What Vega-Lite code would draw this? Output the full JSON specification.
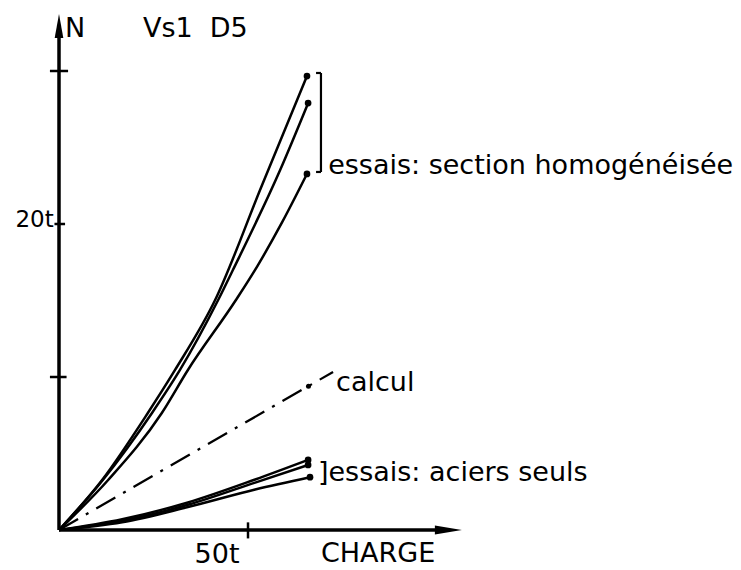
{
  "$schema": "https://vega.github.io/schema/vega-lite/v6.json",
  "width": 741,
  "height": 570,
  "autosize": {"type": "none"},
  "padding": 0,
  "background": "white",
  "config": {"view": {"stroke": null}},
  "datasets": {
    "axes": [
      {"x": 0, "y": 0, "x2": 0, "y2": 32.3},
      {"x": 0, "y": 0, "x2": 101.5, "y2": 0}
    ],
    "ticks": [
      {"x": -2.4, "y": 10, "x2": 2.0, "y2": 10},
      {"x": -1.2, "y": 20, "x2": 1.6, "y2": 20},
      {"x": -2.4, "y": 30, "x2": 2.4, "y2": 30},
      {"x": 50, "y": -0.55, "x2": 50, "y2": 0.5}
    ],
    "bracket": [
      {"x": 69.3, "y": 23.4, "x2": 69.3, "y2": 29.87},
      {"x": 68.0, "y": 29.87, "x2": 69.3, "y2": 29.87},
      {"x": 68.0, "y": 23.4, "x2": 69.3, "y2": 23.4}
    ],
    "curves": [
      {"s": "A", "x": 0, "y": 0}, {"s": "A", "x": 11.4, "y": 3.27}, {"s": "A", "x": 23.5, "y": 7.65}, {"s": "A", "x": 30.7, "y": 10.46}, {"s": "A", "x": 41.3, "y": 15.03}, {"s": "A", "x": 53.4, "y": 22.35}, {"s": "A", "x": 65.6, "y": 29.67},
      {"s": "B", "x": 0, "y": 0}, {"s": "B", "x": 11.6, "y": 3.27}, {"s": "B", "x": 24.6, "y": 7.65}, {"s": "B", "x": 32.0, "y": 10.46}, {"s": "B", "x": 42.1, "y": 15.03}, {"s": "B", "x": 46.0, "y": 16.99}, {"s": "B", "x": 58.5, "y": 23.53}, {"s": "B", "x": 65.9, "y": 27.9},
      {"s": "C", "x": 0, "y": 0}, {"s": "C", "x": 13.0, "y": 3.27}, {"s": "C", "x": 27.2, "y": 7.65}, {"s": "C", "x": 34.1, "y": 10.46}, {"s": "C", "x": 46.8, "y": 15.03}, {"s": "C", "x": 52.6, "y": 17.3}, {"s": "C", "x": 59.0, "y": 20.1}, {"s": "C", "x": 65.6, "y": 23.27},
      {"s": "D", "x": 0, "y": 0}, {"s": "D", "x": 16.7, "y": 0.7}, {"s": "D", "x": 34.1, "y": 1.8}, {"s": "D", "x": 51.9, "y": 3.3}, {"s": "D", "x": 65.9, "y": 4.58},
      {"s": "E", "x": 0, "y": 0}, {"s": "E", "x": 16.7, "y": 0.6}, {"s": "E", "x": 34.1, "y": 1.65}, {"s": "E", "x": 51.9, "y": 3.1}, {"s": "E", "x": 65.9, "y": 4.25},
      {"s": "F", "x": 0, "y": 0}, {"s": "F", "x": 16.7, "y": 0.5}, {"s": "F", "x": 34.1, "y": 1.5}, {"s": "F", "x": 51.9, "y": 2.65}, {"s": "F", "x": 66.4, "y": 3.45}
    ],
    "ends": [
      {"s": "A", "x": 65.6, "y": 29.67},
      {"s": "B", "x": 65.9, "y": 27.9},
      {"s": "C", "x": 65.6, "y": 23.27},
      {"s": "D", "x": 65.9, "y": 4.58},
      {"s": "E", "x": 65.9, "y": 4.25},
      {"s": "F", "x": 66.4, "y": 3.45}
    ],
    "calcul": [
      {"x": 0, "y": 0},
      {"x": 72.5, "y": 10.33}
    ],
    "calculmark": [
      {"x": 66.0, "y": 9.4}
    ],
    "arrowY": [{"x": 0, "y": 32.94}],
    "arrowX": [{"x": 103.0, "y": 0}],
    "labelsLeft": [
      {"x": 1.6, "y": 32.2, "t": "N"},
      {"x": 22.2, "y": 32.2, "t": "Vs1"},
      {"x": 39.9, "y": 32.2, "t": "D5"},
      {"x": 69.3, "y": -2.09, "t": "CHARGE"},
      {"x": 73.3, "y": 9.08, "t": "calcul"},
      {"x": 68.5, "y": 3.2, "t": "]essais: aciers seuls"},
      {"x": 71.2, "y": 23.3, "t": "essais: section homogénéisée"}
    ],
    "labelsCenter": [
      {"x": 41.8, "y": -2.16, "t": "50t"}
    ],
    "labels20": [
      {"x": -1.4, "y": 19.8, "t": "20t"}
    ]
  },
  "layer": [
    {
      "data": {"name": "axes"},
      "mark": {"type": "rule", "color": "black", "strokeWidth": 3.5},
      "encoding": {
        "x": {"field": "x", "type": "quantitative", "scale": {"domain": [-15.61, 180.42], "nice": false, "zero": false}, "axis": null},
        "y": {"field": "y", "type": "quantitative", "scale": {"domain": [-2.614, 34.64], "nice": false, "zero": false}, "axis": null},
        "x2": {"field": "x2"},
        "y2": {"field": "y2"}
      }
    },
    {
      "data": {"name": "ticks"},
      "mark": {"type": "rule", "color": "black", "strokeWidth": 2.5},
      "encoding": {
        "x": {"field": "x", "type": "quantitative", "axis": null},
        "y": {"field": "y", "type": "quantitative", "axis": null},
        "x2": {"field": "x2"},
        "y2": {"field": "y2"}
      }
    },
    {
      "data": {"name": "bracket"},
      "mark": {"type": "rule", "color": "black", "strokeWidth": 2.2},
      "encoding": {
        "x": {"field": "x", "type": "quantitative", "axis": null},
        "y": {"field": "y", "type": "quantitative", "axis": null},
        "x2": {"field": "x2"},
        "y2": {"field": "y2"}
      }
    },
    {
      "data": {"name": "curves"},
      "mark": {"type": "line", "color": "black", "strokeWidth": 2.5, "interpolate": "monotone"},
      "encoding": {
        "x": {"field": "x", "type": "quantitative", "axis": null},
        "y": {"field": "y", "type": "quantitative", "axis": null},
        "detail": {"field": "s", "type": "nominal"},
        "order": {"field": "x", "type": "quantitative"}
      }
    },
    {
      "data": {"name": "calcul"},
      "mark": {"type": "line", "color": "black", "strokeWidth": 2.3, "strokeDash": [22, 9, 3, 9]},
      "encoding": {
        "x": {"field": "x", "type": "quantitative", "axis": null},
        "y": {"field": "y", "type": "quantitative", "axis": null}
      }
    },
    {
      "data": {"name": "calculmark"},
      "mark": {"type": "point", "filled": true, "color": "black", "size": 25, "opacity": 1},
      "encoding": {
        "x": {"field": "x", "type": "quantitative", "axis": null},
        "y": {"field": "y", "type": "quantitative", "axis": null}
      }
    },
    {
      "data": {"name": "ends"},
      "mark": {"type": "point", "filled": true, "color": "black", "size": 45, "opacity": 1},
      "encoding": {
        "x": {"field": "x", "type": "quantitative", "axis": null},
        "y": {"field": "y", "type": "quantitative", "axis": null}
      }
    },
    {
      "data": {"name": "arrowY"},
      "mark": {"type": "point", "filled": true, "color": "black", "opacity": 1, "size": 576, "shape": "M0,-1L0.36,1L-0.36,1Z"},
      "encoding": {
        "x": {"field": "x", "type": "quantitative", "axis": null},
        "y": {"field": "y", "type": "quantitative", "axis": null}
      }
    },
    {
      "data": {"name": "arrowX"},
      "mark": {"type": "point", "filled": true, "color": "black", "opacity": 1, "size": 729, "shape": "M1,0L-1,-0.34L-1,0.34Z"},
      "encoding": {
        "x": {"field": "x", "type": "quantitative", "axis": null},
        "y": {"field": "y", "type": "quantitative", "axis": null}
      }
    },
    {
      "data": {"name": "labelsLeft"},
      "mark": {"type": "text", "font": "DejaVu Sans", "fontSize": 27, "color": "black", "baseline": "alphabetic", "align": "left"},
      "encoding": {
        "x": {"field": "x", "type": "quantitative", "axis": null},
        "y": {"field": "y", "type": "quantitative", "axis": null},
        "text": {"field": "t"}
      }
    },
    {
      "data": {"name": "labelsCenter"},
      "mark": {"type": "text", "font": "DejaVu Sans", "fontSize": 27, "color": "black", "baseline": "alphabetic", "align": "center"},
      "encoding": {
        "x": {"field": "x", "type": "quantitative", "axis": null},
        "y": {"field": "y", "type": "quantitative", "axis": null},
        "text": {"field": "t"}
      }
    },
    {
      "data": {"name": "labels20"},
      "mark": {"type": "text", "font": "DejaVu Sans", "fontSize": 23, "color": "black", "baseline": "alphabetic", "align": "right"},
      "encoding": {
        "x": {"field": "x", "type": "quantitative", "axis": null},
        "y": {"field": "y", "type": "quantitative", "axis": null},
        "text": {"field": "t"}
      }
    }
  ]
}
